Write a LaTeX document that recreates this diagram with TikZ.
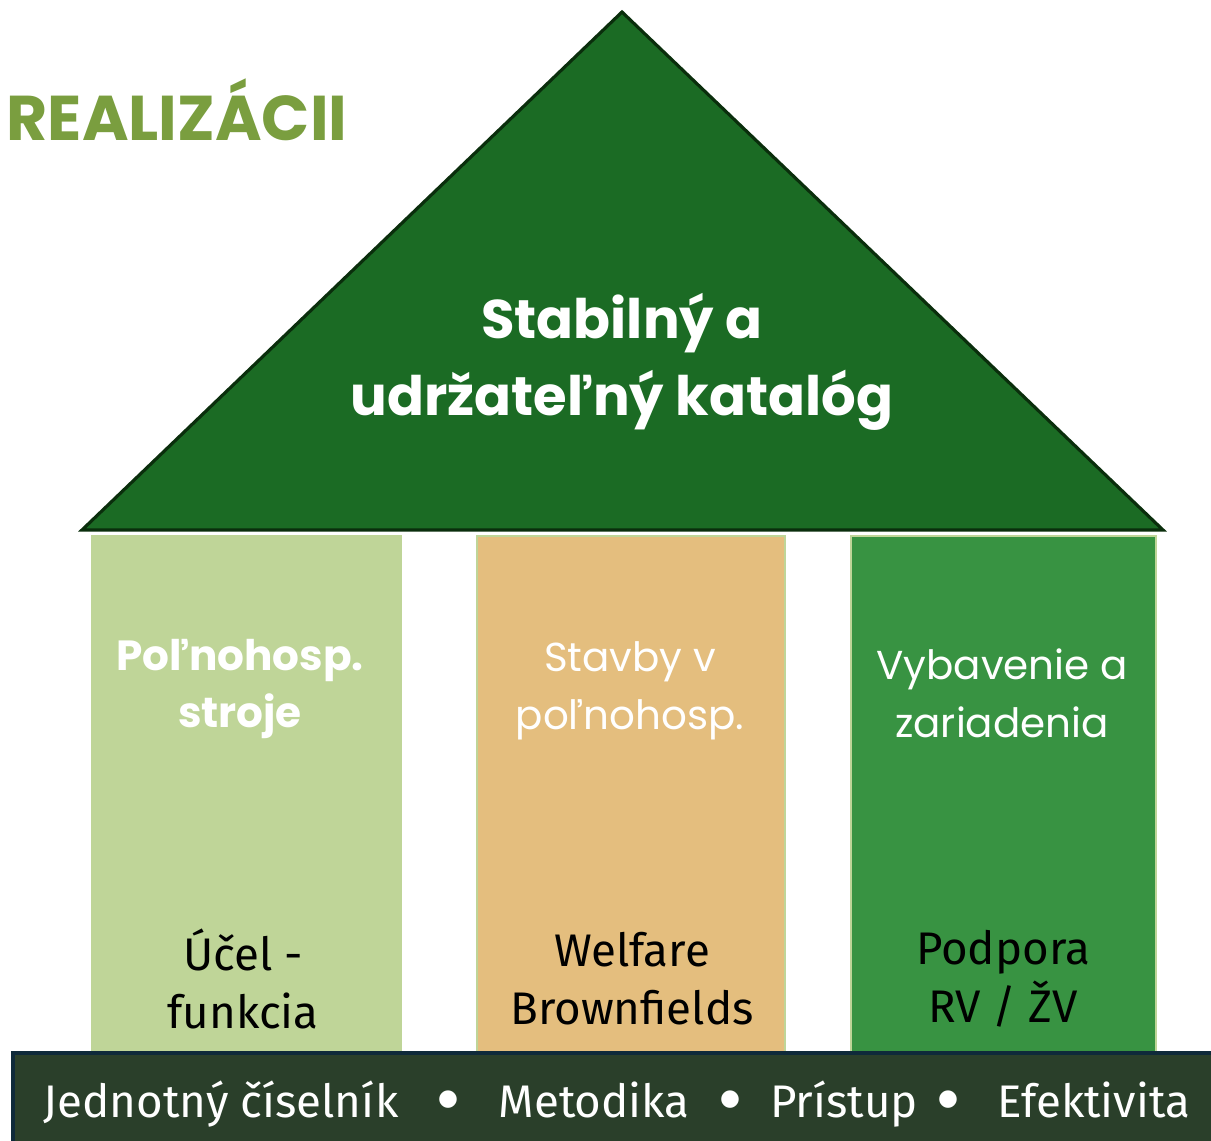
\documentclass[tikz,border=0pt]{standalone}
\usepackage{fontspec}
\setmainfont{Fira Sans}
\newfontfamily\popfont{Poppins}
\newfontfamily\symfont{DejaVu Sans}
\definecolor{roofgreen}{HTML}{1B6B24}
\definecolor{roofedge}{HTML}{0A2E0C}
\definecolor{palegreen}{HTML}{BFD598}
\definecolor{sand}{HTML}{E4BE7E}
\definecolor{midgreen}{HTML}{389342}
\definecolor{barfill}{HTML}{2A3F2A}
\definecolor{baredge}{HTML}{0F2A3A}
\definecolor{olive}{HTML}{7A9E3F}
\tikzset{
  pillar/.style={draw=palegreen,line width=1.6pt},
  headtxt/.style={text=white,align=center,font=\popfont\fontsize{23}{33}\selectfont},
  foottxt/.style={text=black,align=center,font=\fontsize{26}{33}\selectfont},
  bartxt/.style={text=white,anchor=base,font=\fontsize{26}{30}\selectfont},
  bardot/.style={text=white,inner sep=0pt,font=\symfont\fontsize{13}{13}\selectfont},
}
\begin{document}
\begin{tikzpicture}[x=0.02cm,y=-0.02cm]
\useasboundingbox[fill=white] (0,0) rectangle (1211,1141);
% roof
\draw[fill=roofgreen,draw=roofedge,line width=1.8pt,line join=miter]
 (622,12) -- (1163,530) -- (82,530) -- cycle;
% pillars
\fill[palegreen] (91,535) rectangle (402,1052);
\draw[pillar,fill=sand] (477,536) rectangle (785,1052);
\draw[pillar,fill=midgreen] (851,536) rectangle (1156,1052);
% base bar
\draw[fill=barfill,draw=baredge,line width=1.8pt] (13,1053) rectangle (1214,1145);
\node[text=olive,font=\popfont\bfseries\fontsize{36}{40}\selectfont] (title) at (177,110) {REALIZÁCII};
\node[text=white,align=center,font=\popfont\bfseries\fontsize{31}{44}\selectfont] (roof) at (622,362) {Stabilný a\\udržateľný katalóg};
\node[headtxt,font=\popfont\bfseries\fontsize{24}{33}\selectfont] (p1) at (240,689) {Poľnohosp.\\stroje};
\node[headtxt] (p2) at (630,691) {Stavby v\\poľnohosp.};
\node[headtxt] (p3) at (1002,693) {Vybavenie a\\zariadenia};
\node[foottxt] (f1) at (243,979) {Účel -\\funkcia};
\node[foottxt] (f2) at (632,979) {Welfare\\Brownfields};
\node[foottxt] (f3) at (1003,979) {Podpora\\RV / ŽV};
% base words
\node[bartxt] (w1) at (221,1117) {Jednotný číselník};
\node[bardot] (b1) at (448,1100) {●};
\node[bartxt] (w2) at (594,1117) {Metodika};
\node[bardot] (b2) at (730,1100) {●};
\node[bartxt] (w3) at (844,1117) {Prístup};
\node[bardot] (b3) at (948,1100) {●};
\node[bartxt] (w4) at (1094,1117) {Efektivita};
\end{tikzpicture}
\end{document}
